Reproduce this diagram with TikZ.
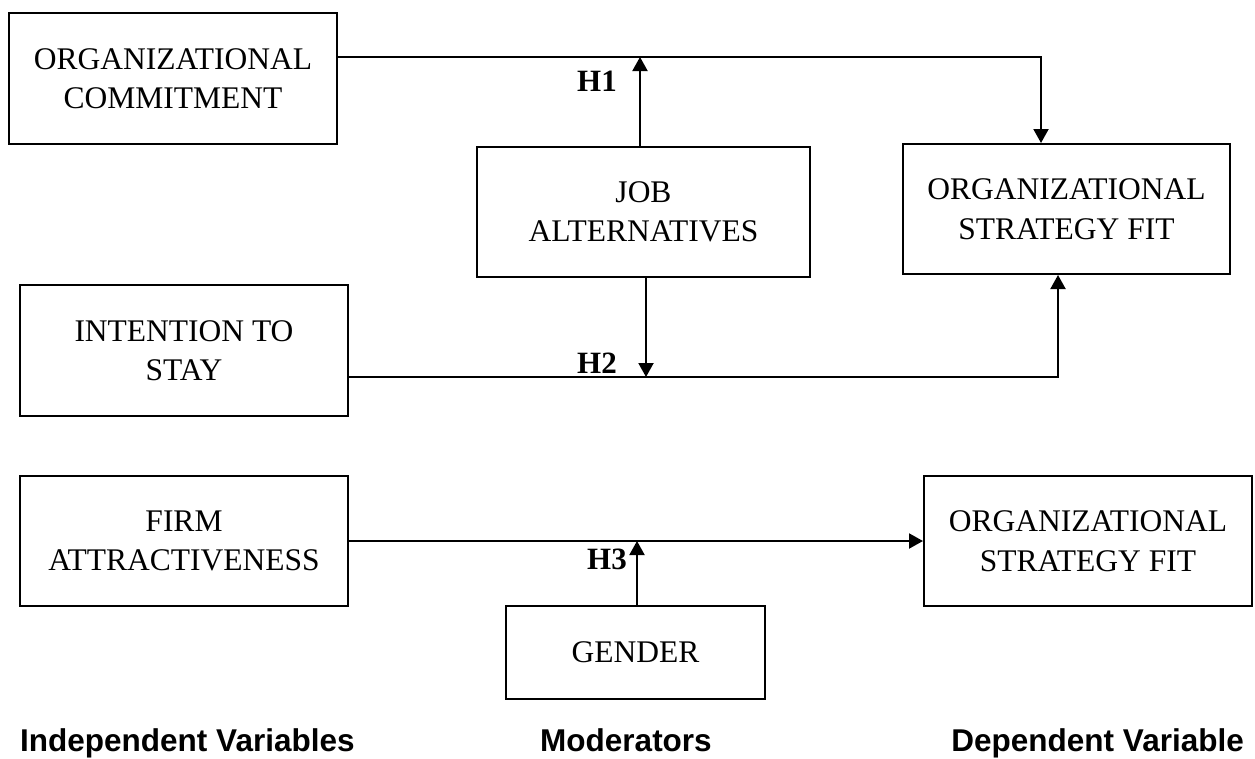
\documentclass[tikz,border=0pt]{standalone}
\usepackage{fontspec}
\setmainfont{Liberation Serif}
\newfontfamily\labelfont{Liberation Sans}
\usetikzlibrary{arrows.meta}
\begin{document}
\begin{tikzpicture}[x=1pt,y=-1pt,
  box/.style={draw, line width=2pt, align=center, inner sep=0pt,
    font=\fontsize{31.5}{39.5}\selectfont},
  conn/.style={line width=2pt},
  arr/.style={conn, -{Triangle[length=14pt,width=15pt]}},
  hlab/.style={inner sep=0pt, font=\fontsize{31}{36}\selectfont\bfseries},
  lab/.style={inner sep=0pt, font=\labelfont\bfseries\fontsize{31.5}{36}\selectfont}]
\useasboundingbox (0,0) rectangle (1255,758);
% boxes
\node[box, minimum width=328pt, minimum height=131pt] (oc) at (173,78.5) {ORGANIZATIONAL\\COMMITMENT};
\node[box, minimum width=333pt, minimum height=130pt] (ja) at (643.5,212) {JOB\\ALTERNATIVES};
\node[box, minimum width=327pt, minimum height=130pt] (osf1) at (1066.5,209) {ORGANIZATIONAL\\STRATEGY FIT};
\node[box, minimum width=328pt, minimum height=131pt] (its) at (184,350.5) {INTENTION TO\\STAY};
\node[box, minimum width=328pt, minimum height=130pt] (fa) at (184,541) {FIRM\\ATTRACTIVENESS};
\node[box, minimum width=328pt, minimum height=130pt] (osf2) at (1088,541) {ORGANIZATIONAL\\STRATEGY FIT};
\node[box, minimum width=259pt, minimum height=93pt] (gen) at (635.5,652.5) {GENDER};
% routing points
\coordinate (c1) at (1041,57);
\coordinate (m1) at (640,57);
\coordinate (c2) at (1058,377);
\coordinate (m2) at (646,377);
\coordinate (m3) at (637,541);
% connectors
\draw[arr] (oc.east |- c1) -- (c1) -- (c1 |- osf1.north);
\draw[arr] (m1 |- ja.north) -- (m1);
\draw[arr] (m2 |- ja.south) -- (m2);
\draw[arr] (its.east |- c2) -- (c2) -- (c2 |- osf1.south);
\draw[arr] (fa.east) -- (osf2.west);
\draw[arr] (m3 |- gen.north) -- (m3);
% hypothesis labels
\node[hlab, anchor=base east] (h1) at (617,91) {H1};
\node[hlab, anchor=base east] (h2) at (617,373) {H2};
\node[hlab, anchor=base east] (h3) at (627,569) {H3};
% column labels
\node[lab, anchor=base west] (iv) at (20,751) {Independent Variables};
\node[lab, anchor=base] (mod) at (626,751) {Moderators};
\node[lab, anchor=base east] (dv) at (1244,751) {Dependent Variable};
\end{tikzpicture}
\end{document}
